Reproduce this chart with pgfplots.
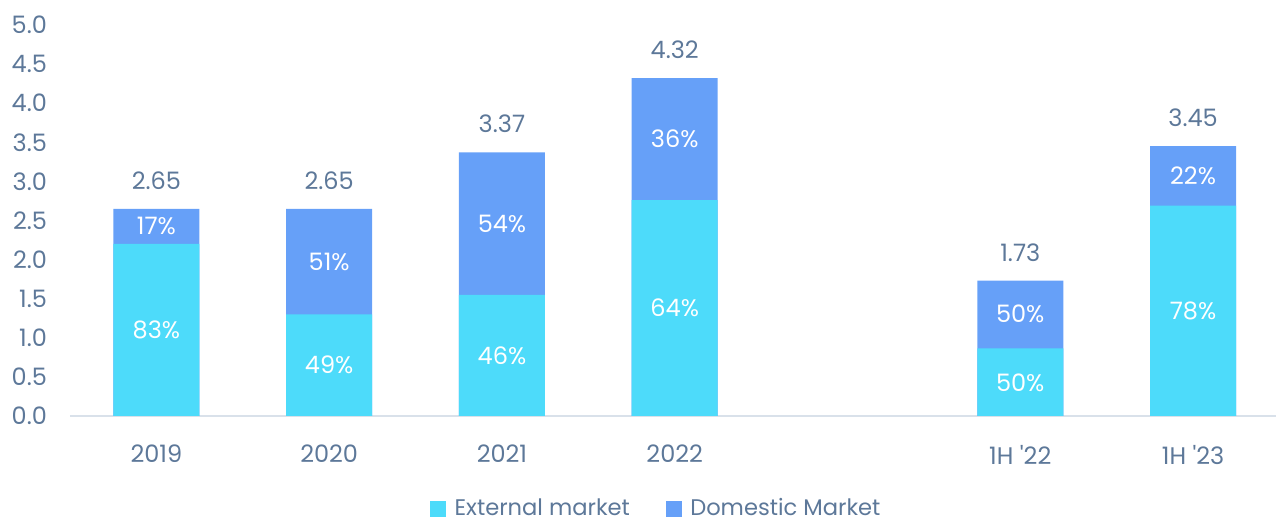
\documentclass[border=0pt]{standalone}
\usepackage{pgfplots}
\pgfplotsset{compat=1.18}
\usepackage{fontspec}
\setmainfont{Poppins}
\definecolor{extc}{HTML}{4DDBFA}
\definecolor{domc}{HTML}{66A0F8}
\definecolor{txt}{HTML}{5D7899}
\definecolor{axc}{HTML}{D9E1EA}

% x = category slot (4 is the empty gap), ext = external, tot = total
\pgfplotstableread{
x ext tot
0 2.20 2.65
1 1.30 2.65
2 1.55 3.37
3 2.76 4.32
5 0.865 1.73
6 2.69 3.45
}\bars

% label positions: segment middles
\pgfplotstableread{
x y lab
0 1.10 83\%
0 2.425 17\%
1 0.65 49\%
1 1.975 51\%
2 0.775 46\%
2 2.46 54\%
3 1.38 64\%
3 3.54 36\%
5 0.43 50\%
5 1.30 50\%
6 1.345 78\%
6 3.07 22\%
}\pcts

\begin{document}
\begin{tikzpicture}
\useasboundingbox (-35pt,-53pt) rectangle (603pt,208pt);
\begin{axis}[
  at={(0,0)}, anchor=south west,
  scale only axis, width=603pt, height=195.5pt,
  xmin=-0.5, xmax=6.48, ymin=0, ymax=5,
  axis x line*=bottom, axis y line*=left,
  x axis line style={axc, line width=1pt, -},
  y axis line style={draw=none},
  xtick={0,1,2,3,5,6},
  xticklabels={2019,2020,2021,2022,1H \textquotesingle22,1H \textquotesingle23},
  ytick={0,0.5,...,5},
  major tick length=0pt,
  font=\fontsize{12}{14}\selectfont,
  /pgf/number format/assume math mode=true,
  yticklabel={\pgfmathprintnumber[fixed,fixed zerofill,precision=1]{\tick}},
  yticklabel style={txt, xshift=-8pt, anchor=east},
  xticklabel style={txt, yshift=-11pt},
  clip=false,
  legend style={draw=none, at={(0.487,-0.236)}, anchor=center,
    legend columns=2, font=\fontsize{11.3}{13}\selectfont\color{txt},
    /tikz/every even column/.append style={column sep=16pt}},
  legend image code/.code={\path[draw=none] (0pt,0pt) -- (10pt,0pt);
    \fill[#1] (0pt,-4.2pt) rectangle (7.5pt,3.3pt);},
]
\addlegendimage{extc}
\addlegendentry{External market}
\addlegendimage{domc}
\addlegendentry{Domestic Market}
\addplot[ybar, bar width=43pt, fill=domc, draw=none, forget plot] table[x=x, y=tot] {\bars};
\addplot[ybar, bar width=43pt, fill=extc, draw=none, forget plot] table[x=x, y=ext] {\bars};
\addplot[only marks, mark=none, forget plot, nodes near coords, point meta=explicit symbolic,
  nodes near coords style={white, anchor=center}] table[x=x, y=y, meta=lab] {\pcts};
\addplot[only marks, mark=none, forget plot, nodes near coords, point meta=explicit symbolic,
  nodes near coords style={txt, anchor=base, yshift=9.8pt}] table[x=x, y=tot, meta=tot] {\bars};
\end{axis}
\end{tikzpicture}
\end{document}
